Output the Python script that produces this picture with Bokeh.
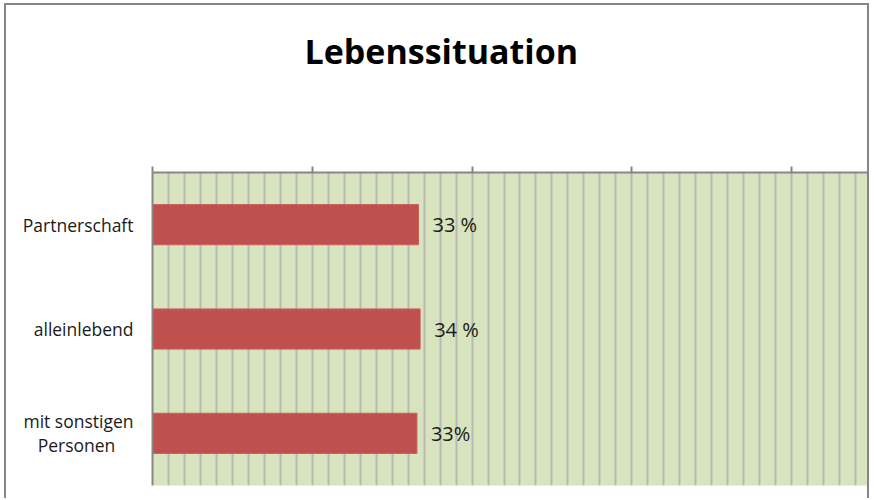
from bokeh.plotting import figure
from bokeh.models import (ColumnDataSource, FactorRange, Range1d, SingleIntervalTicker,
                          CustomJSTickFormatter)
from bokeh.core.properties import value
from bokeh.embed import file_html
from bokeh.resources import INLINE

categories = ["Partnerschaft", "alleinlebend", "mit sonstigen\nPersonen\u00a0\u00a0\u00a0\u00a0"]
shares = [33.3, 33.5, 33.1]
share_labels = ["33 %", "34 %", "33%"]
x_max = 90
major_step = 20
minor_step = 2

src = ColumnDataSource(dict(cat=categories, val=shares, lab=share_labels))

p = figure(width=865, height=495, output_backend="svg", toolbar_location=None,
           y_range=FactorRange(factors=list(reversed(categories)), range_padding=0),
           x_range=Range1d(0, x_max), x_axis_location="above",
           min_border_left=146, min_border_right=0, min_border_top=167, min_border_bottom=15)

p.styles = {"border-left": "2px solid #868686", "border-top": "2px solid #868686",
            "border-right": "2px solid #868686", "margin-left": "4px", "margin-top": "3px"}

p.background_fill_color = "#d7e4bd"
p.border_fill_color = "white"
p.outline_line_color = None

p.title.text = "Lebenssituation"
p.title.text_font = "Open Sans"
p.title.text_font_style = "bold"
p.title.text_font_size = "34px"
p.title.text_color = "black"
p.title.align = "left"
p.title.offset = 152
p.title.standoff = 0
p.title.padding = dict(left=0, right=0, top=0, bottom=93)

p.hbar(y="cat", right="val", left=0, height=0.385, source=src,
       fill_color="#c0504d", line_color="#c9605d", line_width=1)

p.text(x="val", y="cat", text="lab", source=src, x_offset=14,
       text_align="left", text_baseline="middle",
       text_font=value("Open Sans"), text_font_size="20px", text_color="#1a1a1a")

xa = p.xaxis[0]
xa.ticker = SingleIntervalTicker(interval=major_step)
xa.formatter = CustomJSTickFormatter(code="return ''")
xa.minor_tick_line_color = None
xa.major_tick_out = 6
xa.major_tick_in = 0
xa.axis_line_color = "#868686"
xa.axis_line_width = 2
xa.major_tick_line_color = "#868686"
xa.major_tick_line_width = 2

ya = p.yaxis[0]
ya.axis_line_color = "#868686"
ya.axis_line_width = 2
ya.major_tick_line_color = None
ya.major_tick_out = 0
ya.major_label_standoff = 19
ya.major_label_text_font = "Open Sans"
ya.major_label_text_font_size = "17.5px"
ya.major_label_text_line_height = 1.0
ya.major_label_text_color = "#1a1a1a"

p.xgrid.ticker = SingleIntervalTicker(interval=minor_step)
p.xgrid.grid_line_color = "#b8b8b8"
p.xgrid.grid_line_width = 2
p.ygrid.grid_line_color = None

open("out.html", "w").write(file_html(p, INLINE))
